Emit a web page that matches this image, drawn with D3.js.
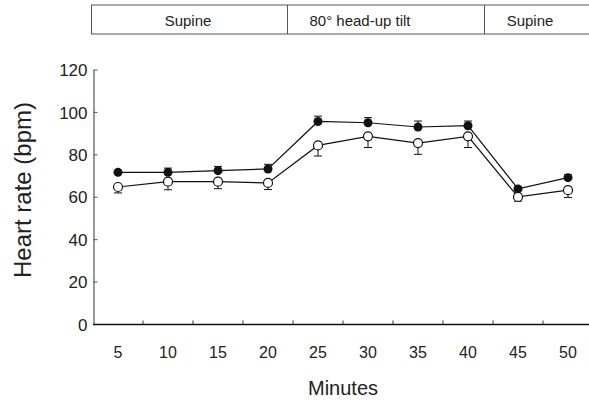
<!DOCTYPE html>
<html><head><meta charset="utf-8">
<script src="https://cdn.jsdelivr.net/npm/d3@7"></script>
<style>body{margin:0;background:#fff;} svg{display:block;}</style>
</head><body>
<svg id="chart" width="589" height="407"></svg>
<script>
const minutes = ["5","10","15","20","25","30","35","40","45","50"];
const filledHR = [71.5, 71.5, 72.3, 73.1, 95.5, 94.9, 92.9, 93.5, 63.7, 69.0];
const filledErr = [1.0, 2.0, 2.0, 2.2, 2.5, 2.4, 2.8, 2.2, 1.0, 1.4];
const openHR = [64.6, 67.1, 67.1, 66.5, 84.2, 88.5, 85.3, 88.5, 59.9, 63.1];
const openErr = [2.8, 3.8, 3.3, 3.1, 5.0, 5.3, 5.3, 5.3, 2.0, 3.4];
const yTicks = [0, 20, 40, 60, 80, 100, 120];
const phases = [
  {label: "Supine", x0: 91, x1: 287, cx: 188},
  {label: "80° head-up tilt", x0: 287, x1: 484, cx: 360},
  {label: "Supine", x0: 484, x1: 600, cx: 530}
];

const svg = d3.select("#chart");
const font = "Liberation Sans, Arial, sans-serif";
const x = d3.scaleBand().domain(minutes).range([93, 593]);
const y = d3.scaleLinear().domain([0, 120]).range([324, 69.5]);

// Phase box
const box = svg.append("g");
box.append("line").attr("x1", 91).attr("x2", 589).attr("y1", 5).attr("y2", 5).attr("stroke", "#555").attr("stroke-width", 1);
box.append("line").attr("x1", 91).attr("x2", 589).attr("y1", 34).attr("y2", 34).attr("stroke", "#555").attr("stroke-width", 1);
phases.forEach(p => {
  box.append("line").attr("x1", p.x0 + 0.5).attr("x2", p.x0 + 0.5).attr("y1", 5).attr("y2", 34).attr("stroke", "#555");
  box.append("text").attr("x", p.cx).attr("y", 26).attr("text-anchor", "middle")
    .attr("font-family", font).attr("font-size", 15).attr("fill", "#222").text(p.label);
});

// Y axis
const yAxis = svg.append("g").attr("transform", "translate(93.5,0)")
  .call(d3.axisRight(y).tickValues(yTicks).tickSize(4).tickSizeOuter(0).tickFormat(d3.format("d")));
yAxis.select(".domain").attr("stroke", "#777").attr("stroke-width", 1.5);
yAxis.selectAll(".tick line").attr("stroke", "#555");
yAxis.selectAll(".tick text").attr("x", -6).attr("text-anchor", "end")
  .attr("font-family", font).attr("font-size", 17).attr("fill", "#222").attr("dy", "0.36em");

// X axis
const xg = svg.append("g").attr("transform", "translate(0,324.5)");
xg.append("line").attr("x1", 93).attr("x2", 589).attr("stroke", "#111").attr("stroke-width", 1.5);
xg.selectAll(".xt").data(minutes.slice(0, -1)).join("line").attr("class", "xt")
  .attr("x1", d => x(d) + x.bandwidth()).attr("x2", d => x(d) + x.bandwidth())
  .attr("y1", 0).attr("y2", -4).attr("stroke", "#333");
xg.selectAll(".xl").data(minutes).join("text").attr("class", "xl")
  .attr("x", d => x(d) + x.bandwidth() / 2).attr("y", 33).attr("text-anchor", "middle")
  .attr("font-family", font).attr("font-size", 16).attr("fill", "#222").text(d => d);

// Axis titles
svg.append("text").attr("transform", "translate(31,190) rotate(-90)").attr("text-anchor", "middle")
  .attr("font-family", font).attr("font-size", 24).attr("fill", "#222").text("Heart rate (bpm)");
svg.append("text").attr("x", 343).attr("y", 395).attr("text-anchor", "middle")
  .attr("font-family", font).attr("font-size", 20).attr("fill", "#222").text("Minutes");

const cx = d => x(d) + x.bandwidth() / 2;
const line = d3.line().x(d => cx(d.m)).y(d => y(d.v));
const filled = minutes.map((m, i) => ({m, v: filledHR[i], e: filledErr[i]}));
const open = minutes.map((m, i) => ({m, v: openHR[i], e: openErr[i]}));

// error bars (filled: up, open: down)
const eb = svg.append("g").attr("stroke", "#111").attr("stroke-width", 1);
filled.forEach(d => {
  eb.append("line").attr("x1", cx(d.m)).attr("x2", cx(d.m)).attr("y1", y(d.v)).attr("y2", y(d.v + d.e));
  eb.append("line").attr("x1", cx(d.m) - 4).attr("x2", cx(d.m) + 4).attr("y1", y(d.v + d.e)).attr("y2", y(d.v + d.e));
});
open.forEach(d => {
  eb.append("line").attr("x1", cx(d.m)).attr("x2", cx(d.m)).attr("y1", y(d.v)).attr("y2", y(d.v - d.e));
  eb.append("line").attr("x1", cx(d.m) - 4).attr("x2", cx(d.m) + 4).attr("y1", y(d.v - d.e)).attr("y2", y(d.v - d.e));
});

svg.append("path").datum(filled).attr("d", line).attr("fill", "none").attr("stroke", "#111").attr("stroke-width", 1.2);
svg.append("path").datum(open).attr("d", line).attr("fill", "none").attr("stroke", "#111").attr("stroke-width", 1.2);

svg.selectAll(".pf").data(filled).join("circle").attr("class", "pf")
  .attr("cx", d => cx(d.m)).attr("cy", d => y(d.v)).attr("r", 4.5).attr("fill", "#111");
svg.selectAll(".po").data(open).join("circle").attr("class", "po")
  .attr("cx", d => cx(d.m)).attr("cy", d => y(d.v)).attr("r", 4.5).attr("fill", "#fff").attr("stroke", "#111").attr("stroke-width", 1.2);
</script>
</body></html>
